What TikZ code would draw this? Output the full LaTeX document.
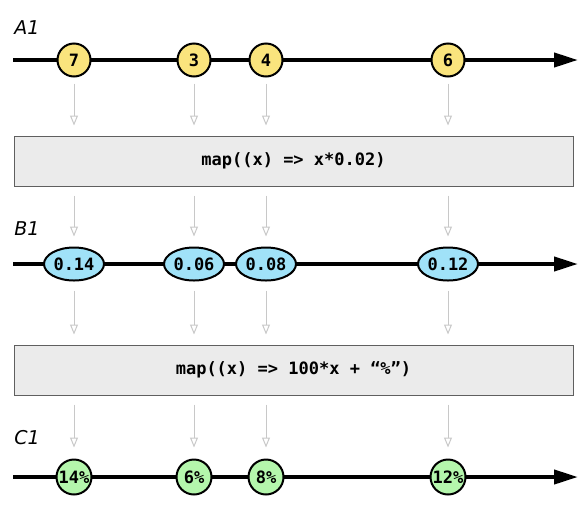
\documentclass[tikz,border=0pt]{standalone}
\usepackage{fontspec}
\setsansfont{DejaVu Sans}
\setmonofont{DejaVu Sans Mono}
\usepackage{xcolor}
\usetikzlibrary{positioning, arrows.meta, shapes.geometric}
\definecolor{marbleyellow}{RGB}{250,228,125}
\definecolor{marbleblue}{RGB}{160,226,248}
\definecolor{marblegreen}{RGB}{180,246,172}
\definecolor{opfill}{RGB}{235,235,235}
\definecolor{opline}{RGB}{95,95,95}
\definecolor{feedgray}{RGB}{200,200,200}
\tikzset{
  timeline/.style={line width=4pt, -{Triangle[length=24pt,width=14pt]}},
  marble/.style={circle, draw, line width=2pt, minimum size=33pt, inner sep=0pt,
    font=\ttfamily\bfseries\fontsize{17}{17}\selectfont},
  oval/.style={ellipse, draw, line width=2pt, minimum width=60pt, minimum height=33pt,
    inner sep=0pt, fill=marbleblue, font=\ttfamily\bfseries\fontsize{17}{17}\selectfont},
  opbox/.style={draw=opline, fill=opfill, line width=1pt, minimum width=559pt,
    minimum height=50pt, font=\ttfamily\bfseries\fontsize{17}{17}\selectfont},
  feed/.style={draw=feedgray, line width=1pt, -{Triangle[open,length=10pt,width=8pt]}},
  streamname/.style={font=\sffamily\itshape\fontsize{19}{19}\selectfont}
}

\begin{document}
\begin{tikzpicture}[x=1pt,y=-1pt]
\useasboundingbox (0,0) rectangle (585,512);

% stream A1
\node[streamname] (nameA) at (27,28) {A1};
\coordinate (astart) at (13,60);
\coordinate (aend) at (578,60);
\draw[timeline] (astart) -- (aend);
\foreach \px/\val/\tag in {74/7/a7, 194/3/a3, 266/4/a4, 448/6/a6}
  \node[marble, fill=marbleyellow] (\tag) at (\px,60) {\val};

\node[opbox] (box1) at (293.5,161) {map((x) => x*0.02)};

% stream B1
\node[streamname] (nameB) at (27,229) {B1};
\coordinate (bstart) at (13,264);
\coordinate (bend) at (578,264);
\draw[timeline] (bstart) -- (bend);
\foreach \px/\val/\tag in {74/0.14/b14, 194/0.06/b06, 266/0.08/b08, 448/0.12/b12}
  \node[oval] (\tag) at (\px,264) {\val};

\node[opbox] (box2) at (293.5,370) {map((x) => 100*x + “\%”)};

% stream C1
\node[streamname] (nameC) at (27,438) {C1};
\coordinate (cstart) at (13,477);
\coordinate (cend) at (578,477);
\draw[timeline] (cstart) -- (cend);
\foreach \px/\val/\tag in {74/14/c14, 194/6/c6, 266/8/c8, 448/12/c12}
  \node[marble, fill=marblegreen, minimum size=35pt] (\tag) at (\px,477) {\val\%};

% feeds between the streams
\foreach \tag in {a7,a3,a4,a6}
  \draw[feed, shorten <=6pt, shorten >=10pt] (\tag) -- (\tag |- box1.north);
\foreach \tag in {b14,b06,b08,b12}
  \draw[feed, shorten <=9pt, shorten >=10pt] (box1.south -| \tag) -- (\tag);
\foreach \tag in {b14,b06,b08,b12}
  \draw[feed, shorten <=9pt, shorten >=10pt] (\tag) -- (\tag |- box2.north);
\foreach \tag in {c14,c6,c8,c12}
  \draw[feed, shorten <=9pt, shorten >=11pt] (box2.south -| \tag) -- (\tag);
\end{tikzpicture}
\end{document}
